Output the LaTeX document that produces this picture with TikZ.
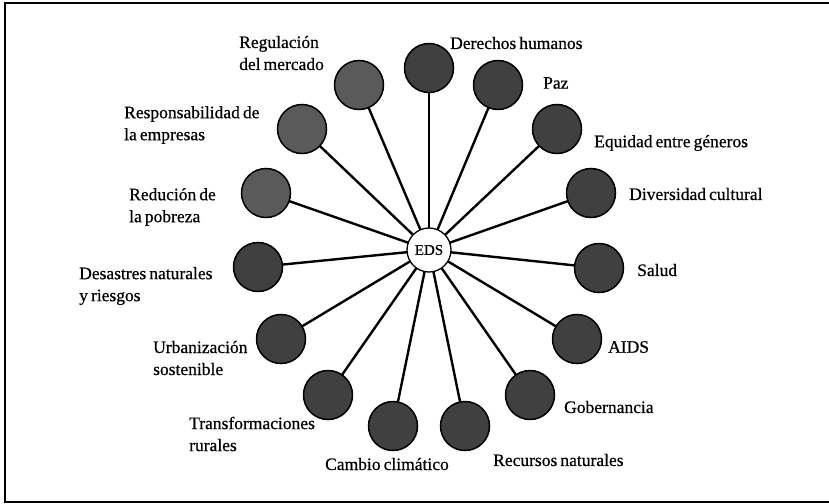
\documentclass[tikz,border=0pt]{standalone}
\usepackage{fontspec}
\setmainfont{Liberation Serif}
\newfontfamily\lblfont[FakeBold=0.6,WordSpace=0.7]{Liberation Serif}
\begin{document}
\begin{tikzpicture}[x=1pt,y=-1pt,
  spoke/.style={line width=2.4pt},
  hubnode/.style={circle,draw=black,line width=1.3pt,fill=white,minimum size=44pt,inner sep=0pt,font=\lblfont\fontsize{15}{17}\selectfont},
  darkball/.style={circle,draw=black,line width=1.5pt,fill=ballDark,minimum size=49pt,inner sep=0pt},
  lightball/.style={circle,draw=black,line width=1.5pt,fill=ballLight,minimum size=49pt,inner sep=0pt},
  lbl/.style={anchor=west,align=left,inner sep=0pt,font=\lblfont\fontsize{17.5}{22}\selectfont}]
\definecolor{ballDark}{HTML}{404040}
\definecolor{ballLight}{HTML}{5A5A5A}
\useasboundingbox (0,0) rectangle (829,503);
\draw[line width=2pt] (832,3.5) -- (5,3.5) -- (5,501.5) -- (832,501.5);
% hub
\coordinate (c) at (429,250);
% outer circles positions
\coordinate (p1) at (429,68);
\coordinate (p2) at (498,85);
\coordinate (p3) at (557,129);
\coordinate (p4) at (591,193);
\coordinate (p5) at (599,268);
\coordinate (p6) at (577,339);
\coordinate (p7) at (530,395);
\coordinate (p8) at (465,426);
\coordinate (p9) at (393,426);
\coordinate (p10) at (328,395);
\coordinate (p11) at (281,339);
\coordinate (p12) at (258,267);
\coordinate (p13) at (266,193);
\coordinate (p14) at (302,129);
\coordinate (p15) at (359,85);
\foreach \i in {1,...,15} \draw[spoke] (c) -- (p\i);
\node[hubnode] (eds) at (c) {EDS};
\foreach \i in {1,...,12} \node[darkball] (b\i) at (p\i) {};
\foreach \i in {13,14,15} \node[lightball] (b\i) at (p\i) {};
% labels
\node[lbl] (l1) at (450,43) {Derechos humanos};
\node[lbl] (l2) at (543,83) {Paz};
\node[lbl] (l3) at (594,143) {Equidad entre géneros};
\node[lbl] (l4) at (629,194) {Diversidad cultural};
\node[lbl] (l5) at (637,270) {Salud};
\node[lbl] (l6) at (608,347) {AIDS};
\node[lbl] (l7) at (564,407) {Gobernancia};
\node[lbl] (l8) at (493,460) {Recursos naturales};
\node[lbl] (l9) at (325,464) {Cambio climático};
\node[lbl] (l10) at (189,434) {Transformaciones\\rurales};
\node[lbl] (l11) at (153,358) {Urbanización\\sostenible};
\node[lbl] (l12) at (79,286) {Desastres naturales\\y riesgos};
\node[lbl] (l13) at (129,207) {Redución de\\la pobreza};
\node[lbl] (l14) at (124,125) {Responsabilidad de\\la empresas};
\node[lbl] (l15) at (239,53) {Regulación\\del mercado};
\end{tikzpicture}
\end{document}
